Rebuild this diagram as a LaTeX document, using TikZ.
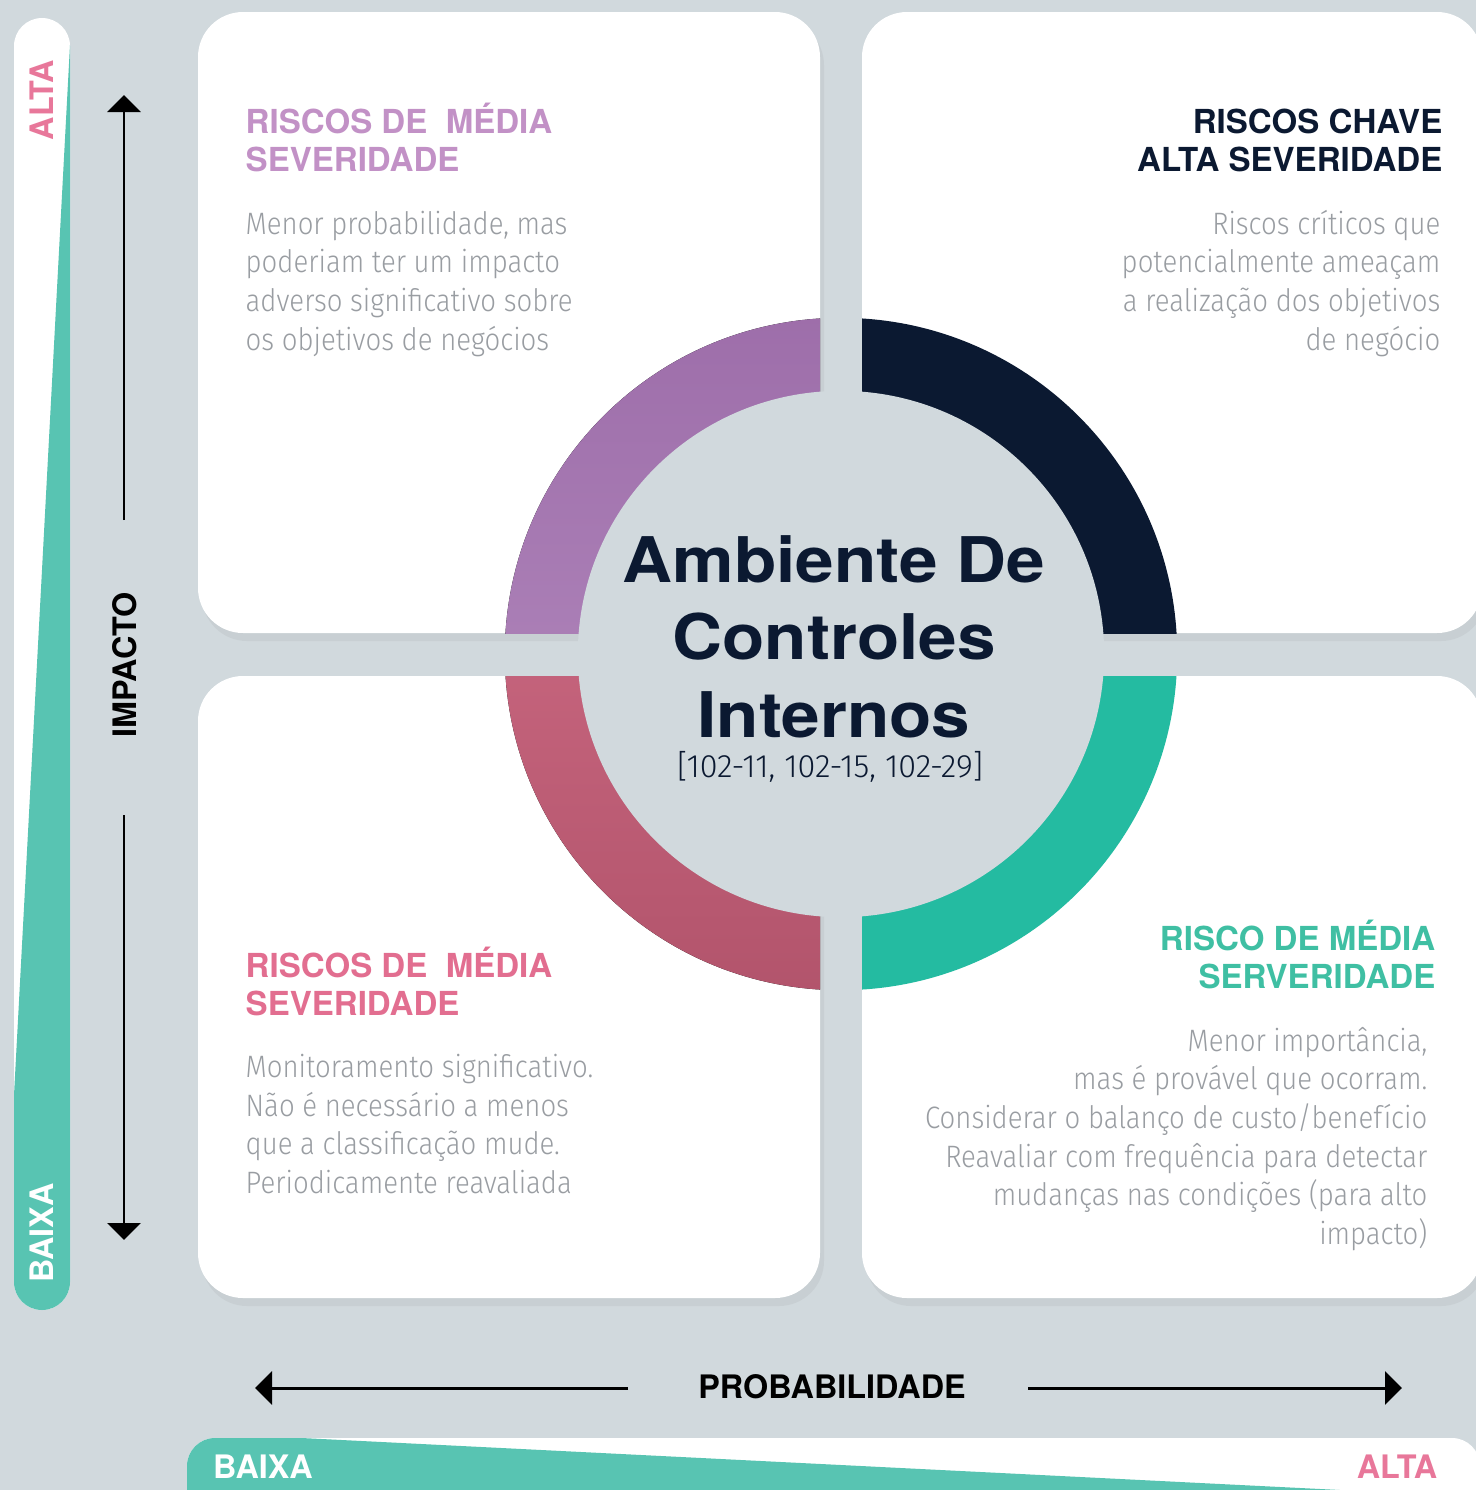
\documentclass[tikz,border=0pt]{standalone}
\usepackage{fontspec}
\setmainfont{TeX Gyre Heros}
\newfontfamily\headfont{TeX Gyre Heros}[FakeStretch=1.1]
\newfontfamily\bodyfont{Fira Sans Light}[FakeStretch=0.89]
\newfontfamily\codefont{Fira Sans Light}
\usetikzlibrary{arrows.meta,shadows}

\definecolor{bggray}{HTML}{D1D9DD}
\definecolor{navy}{HTML}{0B1931}
\definecolor{lilac}{HTML}{A674B3}
\definecolor{lilactext}{HTML}{C291C6}
\definecolor{rose}{HTML}{D2637F}
\definecolor{rosetext}{HTML}{E26E90}
\definecolor{jade}{HTML}{24BBA1}
\definecolor{jadetext}{HTML}{3FBFA3}
\definecolor{barteal}{HTML}{58C4B2}
\definecolor{bodygray}{HTML}{999DA2}
\definecolor{altapink}{HTML}{E8779A}

\newcommand\headsize{\fontsize{9.4pt}{10.8pt}\selectfont}
\newcommand\bodysize{\fontsize{8.8pt}{10.95pt}\selectfont}
\newcommand\bigsize{\fontsize{17.9pt}{21.9pt}\selectfont}
\newcommand\labelsize{\fontsize{9.2pt}{11pt}\selectfont}

\tikzset{
  card/.style={fill=white, rounded corners=0.45cm,
    drop shadow={opacity=0.1, shadow xshift=0.04cm, shadow yshift=-0.08cm}},
  riskhead/.style={inner sep=0pt, font=\headsize\bfseries},
  riskbody/.style={inner sep=0pt, font=\bodysize\bodyfont, text=bodygray},
  axislabel/.style={inner sep=0pt, font=\labelsize\bfseries},
  axisarrow/.style={line width=0.85pt, -{Triangle[length=0.17cm, width=0.33cm]}},
}

\begin{document}
\begin{tikzpicture}[x=0.01cm, y=-0.01cm]
    \def\cx{841}
    \def\cy{654}
    \def\rout{3.36cm}
    \def\rin{2.63cm}

    \useasboundingbox (0,0) rectangle (1476,1490);
    \fill[bggray] (0,0) rectangle (1476,1490);

    % cards
    \path[card] (198,12) rectangle (820,633);
    \path[card] (862,12) rectangle (1482,633);
    \path[card] (198,676) rectangle (820,1298);
    \path[card] (862,676) rectangle (1482,1298);

    % ring, one quarter in each card
    \begin{scope}
    \clip (198,12) rectangle (820,633);
    \fill[top color=lilac!95!black, bottom color=lilac!80!white] (\cx,\cy) circle (\rout);
    \end{scope}
    \begin{scope}
    \clip (862,12) rectangle (1482,633);
    \fill[navy] (\cx,\cy) circle (\rout);
    \end{scope}
    \begin{scope}
    \clip (198,676) rectangle (820,1298);
    \fill[top color=rose!90!white, bottom color=rose!85!black] (\cx,\cy) circle (\rout);
    \end{scope}
    \begin{scope}
    \clip (862,676) rectangle (1482,1298);
    \fill[jade] (\cx,\cy) circle (\rout);
    \end{scope}
    \fill[bggray] (\cx,\cy) circle (\rin);

    % centre (base = last line)
    \node[inner sep=0pt, align=center, anchor=base, text=navy,
      font=\bigsize\headfont\bfseries] (centro) at (834,737)
      {Ambiente De\\Controles\\Internos};
    \node[inner sep=0pt, anchor=base, text=navy, font=\labelsize\codefont]
      (codigos) at (830,777) {[102-11, 102-15, 102-29]};

    % top left
    \node[riskhead, text=lilactext, anchor=base west, align=left] (tlhead) at (245,171)
      {RISCOS DE\ \ MÉDIA\\SEVERIDADE};
    \node[riskbody, anchor=base west, align=left] (tlbody) at (245,350)
      {Menor probabilidade, mas\\poderiam ter um impacto\\adverso significativo sobre\\os objetivos de negócios};

    % top right
    \node[riskhead, text=navy, anchor=base east, align=right] (trhead) at (1443,171)
      {RISCOS CHAVE\ \\ALTA SEVERIDADE};
    \node[riskbody, anchor=base east, align=right] (trbody) at (1441,350)
      {Riscos críticos que\\potencialmente ameaçam\\a realização dos objetivos\\de negócio};

    % bottom left
    \node[riskhead, text=rosetext, anchor=base west, align=left] (blhead) at (245,1015)
      {RISCOS DE\ \ MÉDIA\\SEVERIDADE};
    \node[riskbody, anchor=base west, align=left] (blbody) at (245,1193)
      {Monitoramento significativo.\\Não é necessário a menos\\que a classificação mude.\\Periodicamente reavaliada};

    % bottom right
    \node[riskhead, text=jadetext, anchor=base east, align=right] (brhead) at (1436,988)
      {RISCO DE MÉDIA\\SERVERIDADE};
    \node[riskbody, anchor=base east, align=right] (brbody) at (1428,1244)
      {Menor importância,\\mas é provável que ocorram.\\Considerar o balanço de custo/benefício\\Reavaliar com frequência para detectar\\mudanças nas condições (para alto\\impacto)};

    % side bar
    \begin{scope}
    \fill[white, rounded corners=0.28cm] (14,18) rectangle (70,1310);
    \clip[rounded corners=0.28cm] (14,18) rectangle (70,1310);
    \fill[barteal] (70,45) -- (2,1320) -- (80,1320) -- (80,45) -- cycle;
    \end{scope}
    \node[axislabel, rotate=90, text=altapink] (impalta) at (42,100) {ALTA};
    \node[axislabel, rotate=90, text=white] (impbaixa) at (42,1233) {BAIXA};

    % bottom bar
    \begin{scope}
    \fill[white, rounded corners=0.28cm] (187,1438) rectangle (1480,1550);
    \clip[rounded corners=0.28cm] (187,1438) rectangle (1480,1550);
    \fill[barteal] (150,1430.4) -- (1400,1493) -- (1400,1560) -- (150,1560) -- cycle;
    \end{scope}
    \node[axislabel, text=white] (probbaixa) at (263,1467) {BAIXA};
    \node[axislabel, text=altapink] (probalta) at (1397,1467) {ALTA};

    % axes
    \node[axislabel, rotate=90] (impacto) at (125,665) {IMPACTO};
    \coordinate (vtop) at (124,95);
    \coordinate (vhi) at (124,520);
    \coordinate (vlo) at (124,815);
    \coordinate (vbot) at (124,1240);
    \draw[axisarrow] (vhi) -- (vtop);
    \draw[axisarrow] (vlo) -- (vbot);

    \node[axislabel] (prob) at (832,1387) {PROBABILIDADE};
    \coordinate (hleft) at (255,1388);
    \coordinate (hl) at (628,1388);
    \coordinate (hr) at (1028,1388);
    \coordinate (hright) at (1402,1388);
    \draw[axisarrow] (hl) -- (hleft);
    \draw[axisarrow] (hr) -- (hright);
\end{tikzpicture}
\end{document}
